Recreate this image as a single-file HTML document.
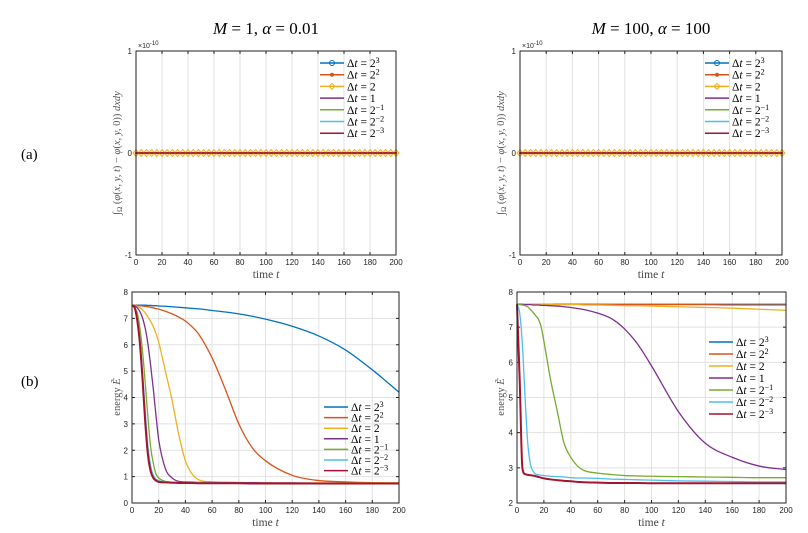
<!DOCTYPE html>
<html><head><meta charset="utf-8"><style>
body{margin:0;background:#fff;}
svg{display:block;font-family:"Liberation Sans",sans-serif;}
.serif{font-family:"Liberation Serif",serif;}
</style></head><body>
<svg id="fig" width="808" height="533" viewBox="0 0 808 533"></svg>
<script>
// ---------- data ----------
const tVals=[0,2,4,6,8,10,12,14,16,18,20,25,30,35,40,45,50,60,70,80,90,100,120,140,160,180,200];
const seriesLabels=["2^3","2^2","2","1","2^-1","2^-2","2^-3"];
const colors=["#0072bd","#d95319","#edb120","#7e2f8e","#77ac30","#4dbeee","#a2142f"];
const xTicks=[0,20,40,60,80,100,120,140,160,180,200];
const yTicksTop=[-1,0,1];
const yTicksBL=[0,1,2,3,4,5,6,7,8];
const yTicksBR=[2,3,4,5,6,7,8];
const leftE1=[7.5,7.5,7.5,7.5,7.5,7.5,7.49,7.49,7.48,7.48,7.47,7.46,7.44,7.42,7.4,7.38,7.36,7.3,7.24,7.17,7.08,6.97,6.7,6.33,5.8,5.05,4.2];
const leftE2=[7.5,7.5,7.49,7.48,7.47,7.46,7.44,7.42,7.4,7.37,7.35,7.27,7.17,7.05,6.9,6.68,6.4,5.5,4.3,3.0,2.1,1.6,1.05,0.85,0.8,0.77,0.76];
const leftE3=[7.5,7.48,7.45,7.4,7.32,7.2,7.05,6.88,6.68,6.42,6.1,5.0,3.9,2.6,1.6,1.1,0.88,0.8,0.79,0.78,0.77,0.77,0.76,0.76,0.76,0.76,0.76];
const leftE4=[7.5,7.47,7.4,7.25,7.0,6.6,6.0,5.2,4.3,3.3,2.4,1.3,0.95,0.82,0.8,0.79,0.78,0.78,0.77,0.77,0.77,0.76,0.76,0.75,0.75,0.75,0.75];
const leftE5=[7.5,7.4,7.2,6.6,5.7,4.5,3.2,2.1,1.5,1.1,0.95,0.82,0.79,0.78,0.78,0.77,0.77,0.76,0.76,0.76,0.75,0.75,0.75,0.75,0.75,0.75,0.75];
const leftE6=[7.5,7.4,7.0,6.2,4.9,3.4,2.1,1.4,1.05,0.9,0.85,0.8,0.78,0.77,0.77,0.76,0.76,0.76,0.75,0.75,0.75,0.75,0.75,0.74,0.74,0.74,0.74];
const leftE7=[7.5,7.4,6.9,6.0,4.6,3.0,1.8,1.2,0.95,0.85,0.8,0.78,0.77,0.76,0.76,0.76,0.75,0.75,0.75,0.75,0.74,0.74,0.74,0.74,0.74,0.74,0.74];
const rightE1=[7.65,7.65,7.65,7.65,7.65,7.65,7.65,7.65,7.65,7.65,7.65,7.65,7.65,7.65,7.65,7.65,7.65,7.65,7.65,7.65,7.65,7.65,7.65,7.65,7.65,7.65,7.65];
const rightE2=[7.65,7.65,7.65,7.65,7.65,7.65,7.65,7.65,7.65,7.65,7.65,7.65,7.65,7.65,7.65,7.65,7.65,7.65,7.64,7.64,7.64,7.64,7.64,7.64,7.63,7.63,7.63];
const rightE3=[7.65,7.65,7.65,7.65,7.65,7.65,7.65,7.65,7.65,7.65,7.65,7.65,7.64,7.64,7.64,7.64,7.63,7.63,7.62,7.61,7.61,7.6,7.58,7.56,7.54,7.51,7.48];
const rightE4=[7.65,7.65,7.65,7.64,7.64,7.64,7.63,7.63,7.63,7.62,7.62,7.61,7.6,7.58,7.56,7.53,7.5,7.4,7.25,6.95,6.5,5.9,4.6,3.7,3.3,3.05,2.95];
const rightE5=[7.65,7.64,7.63,7.61,7.58,7.5,7.42,7.32,7.22,7.0,6.6,5.5,4.6,3.7,3.3,3.05,2.92,2.85,2.81,2.78,2.77,2.76,2.75,2.74,2.73,2.72,2.72];
const rightE6=[7.65,7.4,6.5,5.0,3.7,3.1,2.9,2.82,2.8,2.79,2.78,2.76,2.75,2.74,2.72,2.71,2.71,2.7,2.68,2.67,2.66,2.65,2.63,2.62,2.61,2.6,2.6];
const rightE7=[7.65,5.5,3.0,2.82,2.8,2.79,2.78,2.76,2.74,2.72,2.7,2.67,2.65,2.63,2.62,2.6,2.59,2.58,2.57,2.57,2.57,2.56,2.56,2.56,2.56,2.56,2.56];
const massZero=0;

const NS="http://www.w3.org/2000/svg";
const svg=document.getElementById('fig');
function el(tag,attrs,parent,text){const e=document.createElementNS(NS,tag);for(const k in attrs)e.setAttribute(k,attrs[k]);if(text!==undefined)e.textContent=text;(parent||svg).appendChild(e);return e;}
function supLabel(g,x,y,lab,size){
  const t=el('text',{x:x,y:y,'font-size':size,'class':'serif',fill:'#000'},g);
  const parts=lab.split('^');
  const a=document.createElementNS(NS,'tspan');a.textContent='Δ';t.appendChild(a);
  const b=document.createElementNS(NS,'tspan');b.setAttribute('font-style','italic');b.textContent='t';t.appendChild(b);
  const c=document.createElementNS(NS,'tspan');c.textContent=' = '+parts[0];t.appendChild(c);
  if(parts[1]){const d=document.createElementNS(NS,'tspan');d.setAttribute('dy','-4');d.setAttribute('font-size',size*0.7);d.textContent=parts[1].replace('-','−');t.appendChild(d);}
  return t;
}
// monotone cubic path
function smoothPath(xs,ys){
  const n=xs.length;const d=[],m=[];
  for(let i=0;i<n-1;i++)d.push((ys[i+1]-ys[i])/(xs[i+1]-xs[i]));
  m[0]=d[0];m[n-1]=d[n-2];
  for(let i=1;i<n-1;i++){m[i]=(d[i-1]*d[i]<=0)?0:(d[i-1]+d[i])/2;}
  for(let i=0;i<n-1;i++){if(d[i]===0){m[i]=0;m[i+1]=0;continue;}
    const a=m[i]/d[i],b=m[i+1]/d[i],s=a*a+b*b;if(s>9){const tt=3/Math.sqrt(s);m[i]=tt*a*d[i];m[i+1]=tt*b*d[i];}}
  let p='M'+xs[0].toFixed(2)+','+ys[0].toFixed(2);
  for(let i=0;i<n-1;i++){const h=(xs[i+1]-xs[i])/3;
    p+='C'+(xs[i]+h).toFixed(2)+','+(ys[i]+m[i]*h).toFixed(2)+' '+(xs[i+1]-h).toFixed(2)+','+(ys[i+1]-m[i+1]*h).toFixed(2)+' '+xs[i+1].toFixed(2)+','+ys[i+1].toFixed(2);}
  return p;
}

function panel(name,x0,x1,y0,y1,ymin,ymax,yticks,drawSeries,legend){
  const g=el('g',{},svg);
  
  
  const sx=v=>x0+(v-0)/(200)*(x1-x0);
  const sy=v=>y1-(v-ymin)/(ymax-ymin)*(y1-y0);
  el('rect',{x:x0,y:y0,width:x1-x0,height:y1-y0,fill:'#fff'},g);
  xTicks.forEach(v=>{
    el('line',{x1:sx(v),x2:sx(v),y1:y0,y2:y1,stroke:'#e2e2e2','stroke-width':1},g);
    el('line',{x1:sx(v),x2:sx(v),y1:y1,y2:y1-3,stroke:'#222'},g);
    el('line',{x1:sx(v),x2:sx(v),y1:y0,y2:y0+3,stroke:'#222'},g);
    const tl=el('text',{x:sx(v),y:y1+10,'font-size':8,'text-anchor':'middle',fill:'#222'},g,String(v));
    
    
  });
  yticks.forEach(v=>{
    el('line',{x1:x0,x2:x1,y1:sy(v),y2:sy(v),stroke:'#e2e2e2'},g);
    el('line',{x1:x0,x2:x0+3,y1:sy(v),y2:sy(v),stroke:'#222'},g);
    el('line',{x1:x1,x2:x1-3,y1:sy(v),y2:sy(v),stroke:'#222'},g);
    const tl=el('text',{x:x0-4,y:sy(v)+3,'font-size':8,'text-anchor':'end',fill:'#222'},g,String(v));
    
    
  });
  drawSeries(g,sx,sy);
  el('rect',{x:x0,y:y0,width:x1-x0,height:y1-y0,fill:'none',stroke:'#222','stroke-width':1},g);
  const xl=el('text',{x:(x0+x1)/2,y:y1+23,'font-size':11.5,'text-anchor':'middle','class':'serif',fill:'#444'},g);
  
  
  xl.innerHTML='time <tspan font-style="italic">t</tspan>';
  const lg=el('g',{},g);
  
  
  seriesLabels.forEach((lab,i)=>{
    const y=legend.y+i*legend.dy;
    const e=el('g',{},lg);
    
    
    el('line',{x1:legend.x,x2:legend.x+24,y1:y,y2:y,stroke:colors[i],'stroke-width':1.5},e);
    if(legend.markers){
      const m=legend.markers[i];
      if(m==='o')el('circle',{cx:legend.x+12,cy:y,r:2.5,fill:'none',stroke:colors[i]},e);
      if(m==='*')el('circle',{cx:legend.x+12,cy:y,r:2,fill:colors[i]},e);
      if(m==='d')el('path',{d:`M${legend.x+12},${y-3}l3,3l-3,3l-3,-3z`,fill:'none',stroke:colors[i]},e);
    }
    supLabel(e,legend.x+27,y+4,lab,11.5);
  });
  return {sx,sy};
}
function drawCurves(arrs){
  return (g,sx,sy)=>{
    arrs.forEach((arr,i)=>{
      const d=smoothPath(tVals.map(sx),arr.map(sy));
      const p=el('path',{d:d,fill:'none',stroke:colors[i],'stroke-width':i===6?2:1.3,'stroke-linejoin':'round'},g);
      
      
    });
  };
}
function drawMass(g,sx,sy){
  const y=sy(massZero);
  for(let i=6;i>=0;i--){
    el('line',{x1:sx(0),x2:sx(200),y1:y,y2:y,stroke:colors[i],'stroke-width':i===6?2:1.2},g);
  }
  const mg=el('g',{},g);
  
  
  for(let t=0;t<=200;t+=4){
    const x=sx(t);
    el('path',{d:`M${x},${y-3.5}l3,3.5l-3,3.5l-3,-3.5z`,fill:'none',stroke:colors[2],'stroke-width':1},mg);
    el('circle',{cx:x,cy:y,r:1.3,fill:colors[1]},mg);
  }
  el('line',{x1:sx(0),x2:sx(200),y1:y,y2:y,stroke:colors[6],'stroke-width':1.5},g);
}
const mk=['o','*','d',null,null,null,null];
panel('mass-plot-left',136,396,51,255,-1,1,yTicksTop,drawMass,{x:320,y:63,dy:11.7,markers:mk});
panel('mass-plot-right',520,782,51,255,-1,1,yTicksTop,drawMass,{x:705,y:63,dy:11.7,markers:mk});
panel('energy-plot-left',132,399,292,503,0,8,yTicksBL,drawCurves([leftE1,leftE2,leftE3,leftE4,leftE5,leftE6,leftE7]),{x:324,y:407,dy:10.6});
panel('energy-plot-right',517,786,292,503,2,8,yTicksBR,drawCurves([rightE1,rightE2,rightE3,rightE4,rightE5,rightE6,rightE7]),{x:709,y:342,dy:12});

[[136,'exp-left'],[520,'exp-right']].forEach(([x,n])=>{
  const t=el('text',{x:x+2,y:48,'font-size':7,fill:'#222'},svg,'×10');
  
  el('tspan',{dy:-3,'font-size':6},t,'-10');
});
function title(x,html,n){const t=el('text',{x:x,y:34,'font-size':17,'text-anchor':'middle','class':'serif',fill:'#000'},svg);t.innerHTML=html;}
title(266,'<tspan font-style="italic">M</tspan> = 1, <tspan font-style="italic">α</tspan> = 0.01','title-left');
title(651,'<tspan font-style="italic">M</tspan> = 100, <tspan font-style="italic">α</tspan> = 100','title-right');
const ra=el('text',{x:21,y:159,'font-size':15,'class':'serif'},svg,'(a)');
const rb=el('text',{x:21,y:386,'font-size':15,'class':'serif'},svg,'(b)');
function ytitle(x,y,html,n){const t=el('text',{x:0,y:0,'font-size':10.5,'text-anchor':'middle','class':'serif',fill:'#555',transform:`translate(${x},${y}) rotate(-90)`},svg);t.innerHTML=html;}
const massHtml='∫<tspan font-size="7" dy="2">Ω</tspan><tspan dy="-2"> (</tspan><tspan font-style="italic">φ</tspan>(<tspan font-style="italic">x, y, t</tspan>) − <tspan font-style="italic">φ</tspan>(<tspan font-style="italic">x, y,</tspan> 0)) <tspan font-style="italic">dxdy</tspan>';
ytitle(120,153,massHtml,'y-axis-title-mass-left');
ytitle(504,153,massHtml,'y-axis-title-mass-right');
ytitle(120,397,'energy <tspan font-style="italic">Ẽ</tspan>','y-axis-title-energy-left');
ytitle(504,397,'energy <tspan font-style="italic">Ẽ</tspan>','y-axis-title-energy-right');
</script>
</body></html>
